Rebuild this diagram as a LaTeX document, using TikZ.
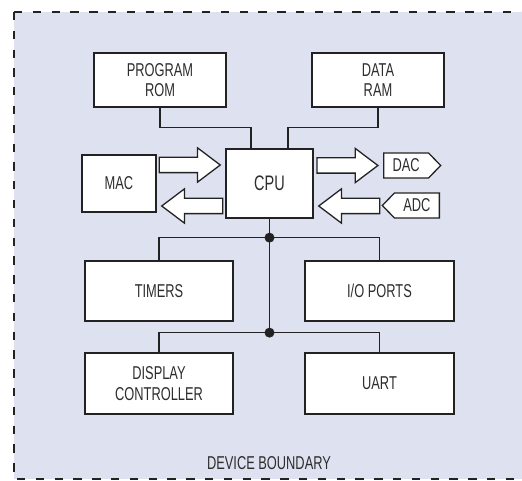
\documentclass[tikz,border=0pt]{standalone}
\usepackage{fontspec}
\setmainfont[FakeStretch=0.69]{Liberation Sans}
\usetikzlibrary{calc, positioning, shapes.arrows, shapes.symbols}

\definecolor{pozadi}{RGB}{222,226,240}
\definecolor{cara}{RGB}{34,34,34}
\definecolor{pismo}{RGB}{45,45,45}

\tikzset{
  popis/.style={text=pismo, font=\fontsize{18.6}{20.5}\selectfont},
  blok/.style={popis, draw=cara, fill=white, line width=1.3, align=center, inner sep=0},
  signal blok/.style={blok, signal, signal pointer angle=92, minimum height=25, minimum width=57, inner xsep=3},
  sipka/.style={single arrow, draw=cara, fill=white, line width=1.3, inner xsep=0, inner ysep=7,
    minimum height=61, single arrow head extend=9.5, single arrow tip angle=74},
  vodic/.style={draw=cara, line width=1.3},
  hranice/.style={draw=cara, line width=2.4, dash pattern=on 8.3 off 10.5},
}

\begin{document}
\begin{tikzpicture}[x=1pt, y=-1pt]
    \useasboundingbox (0,0) rectangle (522,481);
    \clip (0,0) rectangle (522,481);
    % Pozadí a hranice zařízení
    \fill[pozadi] (14,12) rectangle (540,479);
    \draw[hranice] (14,12) -- (540,12);
    \draw[hranice] (14,12) -- (14,479) -- (540,479);
    \node[popis] (hranice) at (269,463.5) {DEVICE BOUNDARY};

    % Bloky
    \node[blok, minimum width=132, minimum height=54] (rom) at (160,80) {PROGRAM\\ROM};
    \node[blok, minimum width=132, minimum height=54] (ram) at (378,80) {DATA\\RAM};
    \node[blok, minimum width=74, minimum height=57] (mac) at (119,183.5) {MAC};
    \node[blok, minimum width=87, minimum height=69, font=\fontsize{21}{24}\selectfont] (cpu) at (269.5,183.5) {CPU};
    \node[signal blok, signal to=east, anchor=west] (dac) at (383,165.5) {DAC};
    \node[signal blok, signal to=west, anchor=east] (adc) at (440,205.5) {ADC};
    \node[blok, minimum width=148, minimum height=60] (timers) at (159,291) {TIMERS};
    \node[blok, minimum width=149, minimum height=60] (io) at (379.5,291) {I/O PORTS};
    \node[blok, minimum width=148, minimum height=61] (disp) at (159,383.5) {DISPLAY\\CONTROLLER};
    \node[blok, minimum width=149, minimum height=61] (uart) at (379.5,383.5) {UART};

    % Datové šipky
    \node[sipka, anchor=tip] (mac2cpu) at ([shift={(-4,-18.5)}]cpu.west) {};
    \node[sipka, shape border rotate=180, anchor=tip] (cpu2mac) at ([shift={(4,22.5)}]mac.east) {};
    \node[sipka, anchor=tip] (cpu2dac) at ([xshift=-4]dac.west) {};
    \node[sipka, shape border rotate=180, anchor=tip] (adc2cpu) at ([shift={(4,22.5)}]cpu.east) {};

    % Paměti k CPU
    \draw[vodic] (rom.south) -- ++(0,20) -| ($(cpu.north)+(-18.5,0)$);
    \draw[vodic] (ram.south) -- ++(0,20) -| ($(cpu.north)+(18.5,0)$);

    % Sběrnice
    \coordinate (j1) at ($(cpu.south)+(0,19)$);
    \coordinate (j2) at ($(cpu.south)+(0,114)$);
    \draw[vodic] (cpu.south) -- (j2);
    \draw[vodic] (timers.north) |- (j1) -| (io.north);
    \draw[vodic] (disp.north) |- (j2) -| (uart.north);
    \fill[cara] (j1) circle (5) (j2) circle (5);
\end{tikzpicture}
\end{document}
